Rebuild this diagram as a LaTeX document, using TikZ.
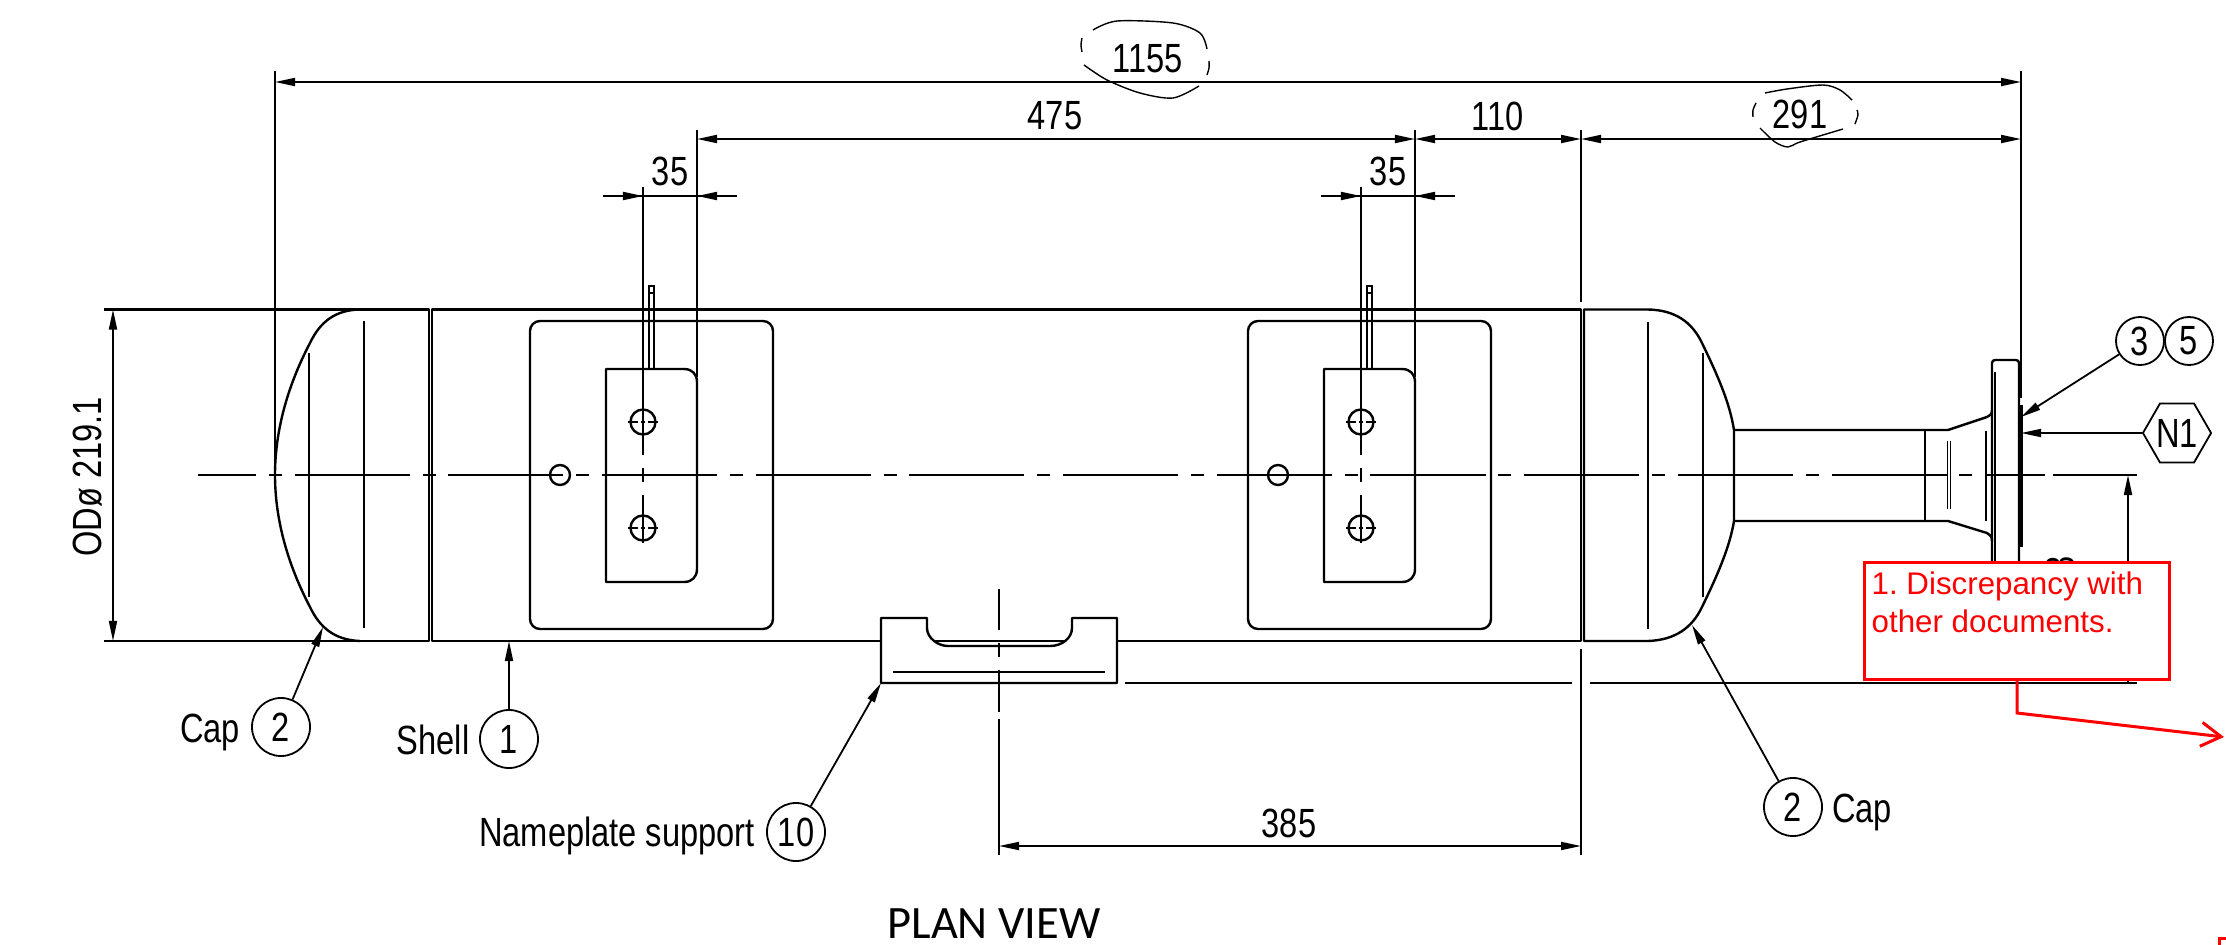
\documentclass[tikz,border=0pt]{standalone}
\usepackage{fontspec}
\newfontfamily\dimfont[FakeStretch=0.8]{Liberation Sans}
\newfontfamily\notefont{Liberation Sans}
\newfontfamily\viewfont{Carlito}
\usetikzlibrary{arrows.meta,shapes.geometric}
\tikzset{
  >={Triangle[length=0.2cm,width=0.08cm]},
  part/.style={line width=0.024cm,line join=round},
  thinpart/.style={line width=0.012cm},
  dimline/.style={line width=0.018cm},
  axisline/.style={line width=0.018cm,dash pattern=on 1.15cm off 0.128cm on 0.13cm off 0.128cm,dash phase=0.57cm},
  holeaxis/.style={line width=0.012cm,dash pattern=on 0.1cm off 0.03cm on 0.04cm off 0.03cm},
  cloud/.style={line width=0.014cm,smooth},
  dimtext/.style={inner sep=0pt,font=\dimfont\fontsize{11.6}{13}\selectfont},
  balloon/.style={dimtext,draw,line width=0.018cm,circle,minimum size=0.58cm},
  smallballoon/.style={balloon,minimum size=0.48cm},
  hexballoon/.style={dimtext,draw,line width=0.018cm,regular polygon,regular polygon sides=6,minimum size=0.66cm},
  redline/.style={draw=red,line width=0.03cm},
}
\begin{document}
\begin{tikzpicture}[x=0.01cm,y=-0.01cm]
\useasboundingbox (0,0) rectangle (2226,945);

\draw[part] (104,309.5) -- (429,309.5) -- (429,641) -- (104,641);
\draw[part] (432,641) -- (432,309.5) -- (1581,309.5) -- (1581,641) -- cycle;
\draw[part] (1584,641) -- (1584,309.5) -- (1648,309.5) .. controls (1675,310) and (1692,322) .. (1702,343) .. controls (1720,380) and (1730,405) .. (1734,430) -- (1734,521) .. controls (1730,545) and (1720,570) .. (1702,607) .. controls (1692,628) and (1675,640) .. (1648,641) -- cycle;
\draw[part] (360,309.5) .. controls (335,310) and (320,322) .. (310,343) .. controls (288,385) and (275,430) .. (275,475) .. controls (275,520) and (288,565) .. (310,607) .. controls (320,628) and (335,640) .. (360,641);
\draw[thinpart] (309,353) -- (309,597);
\draw[thinpart] (364,321) -- (364,628);
\draw[thinpart] (1703,353) -- (1703,597);
\draw[thinpart] (1648,322) -- (1648,629);

\draw[part] (1734,430) -- (1948,430) -- (1987,417) .. controls (1990,416) and (1992,414) .. (1992,410);
\draw[part] (1734,521) -- (1948,521) -- (1987,533) .. controls (1990,534) and (1992,537) .. (1992,541);
\draw[part] (1925,430) -- (1925,521);
\draw[thinpart] (1947.5,441) -- (1947.5,509);
\draw[thinpart] (1950.5,441) -- (1950.5,509);
\draw[thinpart] (1986,431) -- (1986,521);
\draw[part,rounded corners=0.03cm] (1992,600) -- (1992,360) -- (2019,360) -- (2019,600);
\draw[thinpart] (1995,372) -- (1995,600);
\draw[line width=0.04cm] (2021,405) -- (2021,547);

\foreach \dx in {0,718} {
  \begin{scope}[shift={(\dx,0)}]
    \draw[part,rounded corners=0.1cm] (530,321) rectangle (773,629);
    \draw[part] (606,369) -- (684,369) .. controls (692,369) and (697,374) .. (697,382) -- (697,569) .. controls (697,577) and (692,582) .. (684,582) -- (606,582) -- cycle;
    \draw[thinpart] (649,369) -- (649,286) -- (654,286) -- (654,369);
    \draw[thinpart] (649,293) -- (654,293);
    \draw[part] (643,422) circle (12.5);
    \draw[part] (643,528) circle (12.5);
    \draw[holeaxis] (628,422) -- (658,422);
    \draw[holeaxis] (628,528) -- (658,528);
    \draw[part] (560,475) circle (10);
    \draw[dimline] (643,187) -- (643,455);
    \draw[dimline] (643,468) -- (643,482);
    \draw[dimline] (643,495) -- (643,543);
    \draw[dimline] (697,130) -- (697,377);
    \draw[dimline] (603,196) -- (737,196);
    \draw[dimline,->] (603,196) -- (643,196);
    \draw[dimline,->] (737,196) -- (697,196);
  \end{scope}
}

\draw[axisline] (198,475) -- (1985,475);
\draw[dimline] (1985,475) -- (2045,475);
\draw[dimline] (2053,475) -- (2137,475);

\draw[part] (432,641) -- (881,641);
\draw[part] (1117,641) -- (1581,641);
\draw[part,fill=white] (881,683) -- (881,618) -- (927,618) -- (927,628) .. controls (927,638) and (938,646) .. (948,646) -- (1050,646) .. controls (1062,646) and (1072,638) .. (1072,628) -- (1072,618) -- (1117,618) -- (1117,683) -- cycle;
\draw[part] (937,641) -- (1062,641);
\draw[thinpart] (893,672) -- (1105,672);
\draw[dimline] (999,589) -- (999,630);
\draw[dimline] (999,643) -- (999,657);
\draw[dimline] (999,670) -- (999,712);
\draw[dimline] (999,719) -- (999,855);
\draw[dimline] (1125,683) -- (1572,683);
\draw[dimline] (1590,683) -- (2137,683);

\draw[dimline] (275,71) -- (275,475);
\draw[dimline] (2021,71) -- (2021,398);
\draw[dimline] (1581,130) -- (1581,302);
\draw[dimline] (1581,649) -- (1581,855);
\draw[dimline,<->] (275,82) -- (2021,82);
\draw[dimline,<->] (697,139) -- (1415,139);
\draw[dimline,<->] (1415,139) -- (1581,139);
\draw[dimline,<->] (1581,139) -- (2021,139);
\draw[dimline,<->] (113,309.5) -- (113,641);
\draw[dimline,<->] (999,846) -- (1581,846);
\draw[dimline,->] (2128,683) -- (2128,475);

\node[dimtext] (dimTotal) at (1148,59) {1155};
\node[dimtext] (dimSaddles) at (1055,116) {475};
\node[dimtext] (dimSeam) at (1498,116) {110};
\node[dimtext] (dimEnd) at (1800,114) {291};
\node[dimtext] (dimHoleA) at (670,171) {35};
\node[dimtext] (dimHoleB) at (1388,171) {35};
\node[dimtext] (dimPlate) at (1289,823) {385};
\node[dimtext,rotate=90] (dimOD) at (88,477) {ODø 219.1};
\node[dimtext,rotate=90] (dimCut) at (2060,565) {8};

\draw[cloud] plot coordinates {(1093,30) (1117,21) (1173,23) (1200,33) (1207,49)};
\draw[cloud] plot coordinates {(1082,38) (1081,45) (1082,52)};
\draw[cloud] plot coordinates {(1084,65) (1107,80) (1140,93) (1173,98) (1199,86)};
\draw[cloud] plot coordinates {(1209,61) (1209,68) (1207,75)};
\draw[cloud] plot coordinates {(1765,93) (1787,89) (1823,85) (1840,90) (1852,100)};
\draw[cloud] plot coordinates {(1756,103) (1753,110) (1753,117)};
\draw[cloud] plot coordinates {(1760,128) (1775,142) (1788,147) (1800,142) (1843,129)};
\draw[cloud] plot coordinates {(1857,110) (1858,115) (1855,124)};

\coordinate (tipCapL) at (323,627);
\coordinate (tipShell) at (509,641);
\coordinate (tipPlate) at (881,683);
\coordinate (tipCapR) at (1692,625);
\coordinate (tipFlange) at (2021,417);
\coordinate (tipNozzle) at (2021,433);

\node[balloon] (capL) at (281,727) {2};
\node[dimtext] (capLabelL) at (210,732) {Cap};
\node[balloon] (shell) at (509,739) {1};
\node[dimtext] (shellLabel) at (433,740) {Shell};
\node[balloon] (plate) at (796,832) {10};
\node[dimtext] (plateLabel) at (617,836) {Nameplate support};
\node[balloon] (capR) at (1793,807) {2};
\node[dimtext] (capLabelR) at (1862,812) {Cap};
\node[smallballoon] (flangeA) at (2140,341) {3};
\node[smallballoon] (flangeB) at (2189,341) {5};
\node[hexballoon] (nozzle) at (2177,433) {N1};

\draw[dimline,->] (capL) -- (tipCapL);
\draw[dimline,->] (shell) -- (tipShell);
\draw[dimline,->] (plate) -- (tipPlate);
\draw[dimline,->] (capR) -- (tipCapR);
\draw[dimline,->] (flangeA) -- (tipFlange);
\draw[dimline,->] (nozzle) -- (tipNozzle);

\node[redline,fill=white,minimum width=3.04cm,minimum height=1.16cm,inner sep=0pt] (noteBox) at (2017,621) {};
\node[text=red,anchor=north west,align=left,inner sep=0pt,font=\notefont\fontsize{8.9}{10.8}\selectfont\frenchspacing] (noteText) at (1871,571) {1. Discrepancy with\\other documents.};
\coordinate (noteEnd) at (2224,737);
\draw[redline,-{Straight Barb[length=0.2cm,width=0.24cm]}] (noteBox.south) -- (2017,713) -- (noteEnd);
\draw[redline] (2219,945) -- (2219,938) -- (2226,938);

\node[font=\viewfont\fontsize{13.2}{16}\selectfont,inner sep=0pt] (viewTitle) at (994,924) {PLAN VIEW};
\end{tikzpicture}
\end{document}
